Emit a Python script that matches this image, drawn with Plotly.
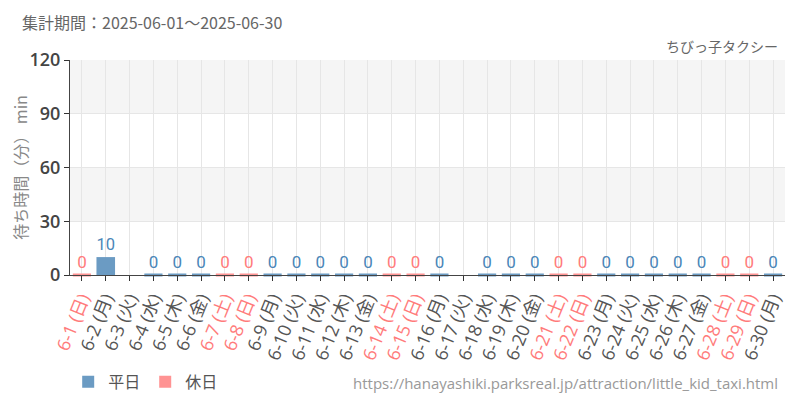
import plotly.graph_objects as go

# waiting times for June 2025 (None = no data)
dates = ["6-%d" % d for d in range(1, 31)]
weekdays = ["日", "月", "火", "水", "木", "金", "土"] * 5
weekdays = weekdays[:30]
holiday = [w in ("土", "日") for w in weekdays]
wait_min = [0, 10, None, 0, 0, 0, 0, 0, 0, 0,
            0, 0, 0, 0, 0, 0, None, 0, 0, 0,
            0, 0, 0, 0, 0, 0, 0, 0, 0, 0]

BLUE = "#6b9bc3"
BLUE_TXT = "#4a86b8"
PINK = "#ff9393"
PINK_TXT = "#ff7b7b"
GRAY_TXT = "#555555"

labels = []
for d, w, h in zip(dates, weekdays, holiday):
    col = PINK_TXT if h else GRAY_TXT
    labels.append(f'<span style="color:{col}">{d} ({w})</span>')

fig = go.Figure()
for name, is_hol, col, tcol in [("平日", False, BLUE, BLUE_TXT), ("休日", True, PINK, PINK_TXT)]:
    vals = [v if h == is_hol else None for v, h in zip(wait_min, holiday)]
    fig.add_trace(go.Bar(
        x=dates, y=vals, name=name,
        marker=dict(color=col, line=dict(width=0)),
        texttemplate="%{y}", textposition="outside",
        textfont=dict(color=tcol, size=17, family="Roboto"),
        cliponaxis=False,
    ))
    # zero-height bars are drawn as a flat stroke
    zeros = [0 if v == 0 else None for v in vals]
    fig.add_trace(go.Scatter(
        x=dates, y=zeros, mode="markers", showlegend=False, hoverinfo="skip",
        marker=dict(symbol="line-ew", size=13, line=dict(color=col, width=3)),
        cliponaxis=False,
    ))

# alternating bands
for y0, y1 in [(30, 60), (90, 120)]:
    fig.add_shape(type="rect", xref="paper", x0=0, x1=1, yref="y", y0=y0, y1=y1,
                  fillcolor="#f5f5f5", line=dict(width=0), layer="below")

# page body has an 8px margin, so the figure is 8px smaller and shifted
fig.update_layout(
    width=792, height=392,
    margin=dict(l=62, r=15, t=52, b=125),
    paper_bgcolor="white", plot_bgcolor="white",
    barmode="overlay", bargap=0.22,
    font=dict(family="Open Sans, Noto Sans CJK JP", color=GRAY_TXT),
    showlegend=True,
    legend=dict(orientation="h", xref="container", yref="container",
                x=0.076, y=0.046, xanchor="left", yanchor="middle",
                font=dict(size=16, color=GRAY_TXT, family="Noto Sans CJK JP")),
    xaxis=dict(
        range=[-0.5, len(dates) - 0.5],
        tickmode="array", tickvals=dates, ticktext=labels, tickangle=-68,
        tickfont=dict(size=18, family="Open Sans, Noto Sans CJK JP"),
        showgrid=True, gridcolor="#e6e6e6", automargin=False,
        showline=True, linecolor="#444", linewidth=1,
        ticks="outside", ticklen=5, tickcolor="#333",
    ),
    yaxis=dict(
        range=[0, 120], tickvals=[0, 30, 60, 90, 120], automargin=False,
        tickfont=dict(size=18, color="#444", family="Open Sans", weight=600),
        showgrid=True, gridcolor="#e6e6e6", zeroline=False,
        showline=True, linecolor="#444", linewidth=1,
        ticks="outside", ticklen=5, tickcolor="#333",
        title=dict(text="待ち時間（分） min", font=dict(size=16, color="#888",
                   family="Noto Sans CJK JP")),
    ),
    annotations=[
        dict(text="集計期間：2025-06-01～2025-06-30", xref="paper", yref="paper",
             x=-0.07, y=1.177, xanchor="left", yanchor="middle", showarrow=False,
             font=dict(size=16, color="#666", family="Noto Sans CJK JP")),
        dict(text="ちびっ子タクシー", xref="paper", yref="paper",
             x=0.993, y=1.065, xanchor="right", yanchor="middle", showarrow=False,
             font=dict(size=14, color="#666", family="Noto Sans CJK JP")),
        dict(text="https://hanayashiki.parksreal.jp/attraction/little_kid_taxi.html",
             xref="paper", yref="paper", x=0.993, y=-0.5, xanchor="right",
             yanchor="middle", showarrow=False,
             font=dict(size=15, color="#999", family="Open Sans")),
    ],
)

fig.write_html("out.html")
